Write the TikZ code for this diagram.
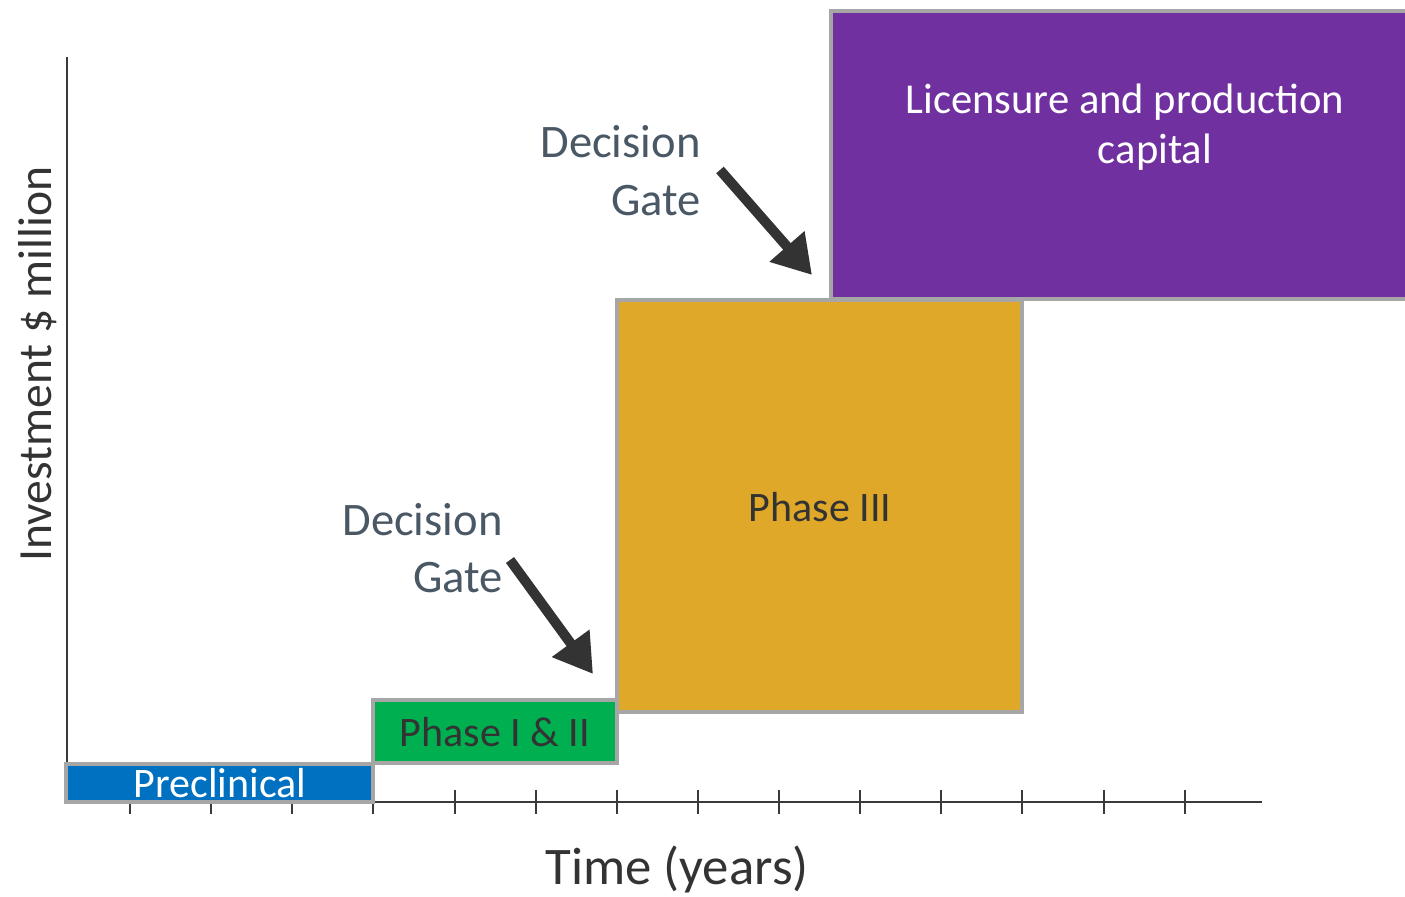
\documentclass[tikz,border=0pt]{standalone}
\usepackage{fontspec}
\setmainfont{Carlito}
\usetikzlibrary{arrows.meta}
\definecolor{bord}{HTML}{A6A6A6}
\definecolor{precl}{HTML}{0070C0}
\definecolor{phgreen}{HTML}{00B050}
\definecolor{phgold}{HTML}{E0A828}
\definecolor{licpurple}{HTML}{7030A0}
\definecolor{gatetext}{HTML}{4A5866}
\definecolor{darktext}{HTML}{333333}
\definecolor{axiscol}{HTML}{3A3A3A}
\tikzset{
  box/.style={draw=bord, line width=2.4pt},
  axisline/.style={draw=axiscol, line width=1pt},
  tickline/.style={draw=axiscol, line width=1pt},
  gate/.style={text=gatetext, font=\fontsize{23.3pt}{28pt}\selectfont, inner sep=0pt, anchor=base east},
  boxlabel/.style={font=\fontsize{21pt}{25pt}\selectfont, inner sep=0pt, anchor=base},
  gatearrow/.style={draw=darktext, line width=5pt, -{Triangle[length=19pt,width=22pt]}, shorten >=0pt},
}
\begin{document}
\begin{tikzpicture}[x=0.5pt,y=-0.5pt]
\useasboundingbox (0,0) rectangle (1405,897);
\begin{scope}
\clip (0,0) rectangle (1405,897);
% axes
\coordinate (yt) at (67,57);
\coordinate (org) at (67,802);
\coordinate (xe) at (1262,802);
\draw[axisline] (yt) -- (org) -- (xe);
\foreach \x in {130,211,292,373,455,536,617,698,779,860,941,1022,1104,1185}
  \draw[tickline] (\x,790) -- (\x,814);
% boxes
\draw[box, fill=precl] (66,764) rectangle (373,802);
\draw[box, fill=phgreen] (373,700) rectangle (617,763);
\draw[box, fill=phgold] (617,300) rectangle (1022,712);
\draw[box, fill=licpurple] (831,11) rectangle (1420,299);
\end{scope}
% box labels
\node[boxlabel, text=white] (prec) at (220,798) {Preclinical};
\node[boxlabel, text=darktext] (ph12) at (495,747) {Phase I \& II};
\node[boxlabel, text=darktext] (ph3) at (820,522) {Phase III};
\node[boxlabel, text=white, font=\fontsize{21.3pt}{25pt}\selectfont] (lic1) at (1125,114) {Licensure and production};
\node[boxlabel, text=white, font=\fontsize{21.3pt}{25pt}\selectfont] (lic2) at (1155,164) {capital};
% decision gates
\node[gate] (dg1a) at (701,158) {Decision};
\node[gate] (dg1b) at (701,216) {Gate};
\node[gate] (dg2a) at (503,536) {Decision};
\node[gate] (dg2b) at (503,593) {Gate};
\coordinate (a1s) at (720,170);
\coordinate (a1e) at (812,275);
\coordinate (a2s) at (510,560);
\coordinate (a2e) at (593,674);
\draw[gatearrow] (a1s) -- (a1e);
\draw[gatearrow] (a2s) -- (a2e);
% axis labels
\node[font=\fontsize{26.4pt}{30pt}\selectfont, text=darktext, inner sep=0pt, anchor=base] (xlab) at (677,885) {Time (years)};
\node[font=\fontsize{23.8pt}{28pt}\selectfont, text=darktext, inner sep=0pt, anchor=base, rotate=90] (ylab) at (51,364) {Investment \$ million};
\end{tikzpicture}
\end{document}
